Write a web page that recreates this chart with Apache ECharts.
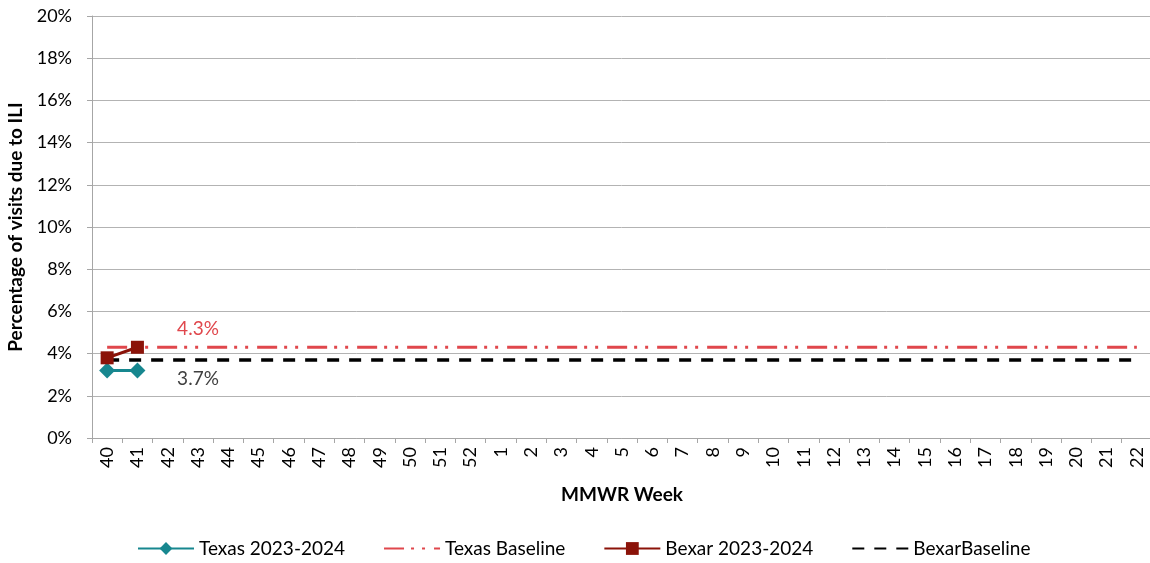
<!DOCTYPE html>
<html>
<head>
<meta charset="utf-8">
<script src="https://cdn.jsdelivr.net/npm/echarts@6/dist/echarts.min.js"></script>
<style>
  html, body { margin: 0; padding: 0; background: #fff; }
  #chart { width: 1150px; height: 563px; }
</style>
</head>
<body>
<div id="chart"></div>
<script>
const weeks = ['40', '41', '42', '43', '44', '45', '46', '47', '48', '49', '50', '51', '52',
  '1', '2', '3', '4', '5', '6', '7', '8', '9', '10', '11', '12', '13', '14', '15', '16',
  '17', '18', '19', '20', '21', '22']
const texas = [3.2, 3.2]
const bexar = [3.8, 4.3]
const texasBaseline = 4.3
const bexarBaseline = 3.7
const labelWeek = '43'

const font = 'Lato, "Liberation Sans", sans-serif'

// baseline is one value across all weeks, labelled once
const baselineData = (value, color, position) => weeks.map(w => {
  if (w !== labelWeek) return value
  return {
    value,
    label: {
      show: true,
      position,
      distance: 9,
      formatter: value.toFixed(1) + '%',
      color,
      fontSize: 19,
      fontFamily: font
    }
  }
})

const hiddenMarker = { color: 'rgba(0,0,0,0)', borderWidth: 0, opacity: 0 }

const chart = echarts.init(document.getElementById('chart'), null, { renderer: 'canvas' })

chart.setOption({
  animation: false,
  backgroundColor: '#fff',
  grid: { left: 92, top: 16, width: 1060, height: 422, outerBoundsMode: 'none', containLabel: false },
  xAxis: {
    type: 'category',
    data: weeks,
    boundaryGap: true,
    name: 'MMWR Week',
    nameLocation: 'middle',
    nameGap: 47,
    nameTextStyle: { fontSize: 19, fontWeight: 'bold', color: '#000', fontFamily: font },
    axisLine: { lineStyle: { color: '#a6a6a6', width: 1 } },
    axisTick: { show: true, length: 5, lineStyle: { color: '#a6a6a6' } },
    axisLabel: { rotate: 90, interval: 0, fontSize: 18, color: '#000', margin: 9, fontFamily: font },
    splitLine: { show: false }
  },
  yAxis: {
    type: 'value',
    min: 0,
    max: 20,
    interval: 2,
    name: 'Percentage of visits due to ILI',
    nameLocation: 'middle',
    nameGap: 64,
    nameTextStyle: { fontSize: 19, fontWeight: 'bold', color: '#000', fontFamily: font },
    axisLine: { show: true, lineStyle: { color: '#a6a6a6' } },
    axisTick: { show: true, length: 5, lineStyle: { color: '#a6a6a6' } },
    axisLabel: { formatter: '{value}%', fontSize: 18, color: '#000', margin: 20, fontFamily: font },
    splitLine: { lineStyle: { color: '#b3b3b3', width: 1 } }
  },
  legend: {
    bottom: 0,
    left: 132,
    itemWidth: 56,
    itemHeight: 16,
    itemGap: 38,
    textStyle: { fontSize: 19, color: '#000', fontFamily: font },
    data: [
      { name: 'Texas 2023-2024' },
      { name: 'Texas Baseline', itemStyle: hiddenMarker },
      { name: 'Bexar 2023-2024' },
      { name: 'BexarBaseline', itemStyle: hiddenMarker }
    ]
  },
  series: [
    {
      name: 'Texas Baseline',
      type: 'line',
      data: baselineData(texasBaseline, '#e0474c', 'top'),
      symbol: 'circle',
      symbolSize: 0,
      showSymbol: true,
      lineStyle: { color: '#e0474c', width: 3, type: [20, 7, 3, 8, 3, 9] },
      itemStyle: { color: '#e0474c' },
      z: 2
    },
    {
      name: 'BexarBaseline',
      type: 'line',
      data: baselineData(bexarBaseline, '#404040', 'bottom'),
      symbol: 'circle',
      symbolSize: 0,
      showSymbol: true,
      lineStyle: { color: '#000', width: 3.5, type: [12, 10] },
      itemStyle: { color: '#000' },
      z: 2
    },
    {
      name: 'Texas 2023-2024',
      type: 'line',
      data: texas,
      symbol: 'diamond',
      symbolSize: 16,
      lineStyle: { color: '#17878f', width: 3 },
      itemStyle: { color: '#17878f' },
      z: 3
    },
    {
      name: 'Bexar 2023-2024',
      type: 'line',
      data: bexar,
      symbol: 'rect',
      symbolSize: 13,
      lineStyle: { color: '#8b1309', width: 3 },
      itemStyle: { color: '#8b1309' },
      z: 4
    }
  ]
})
</script>
</body>
</html>
